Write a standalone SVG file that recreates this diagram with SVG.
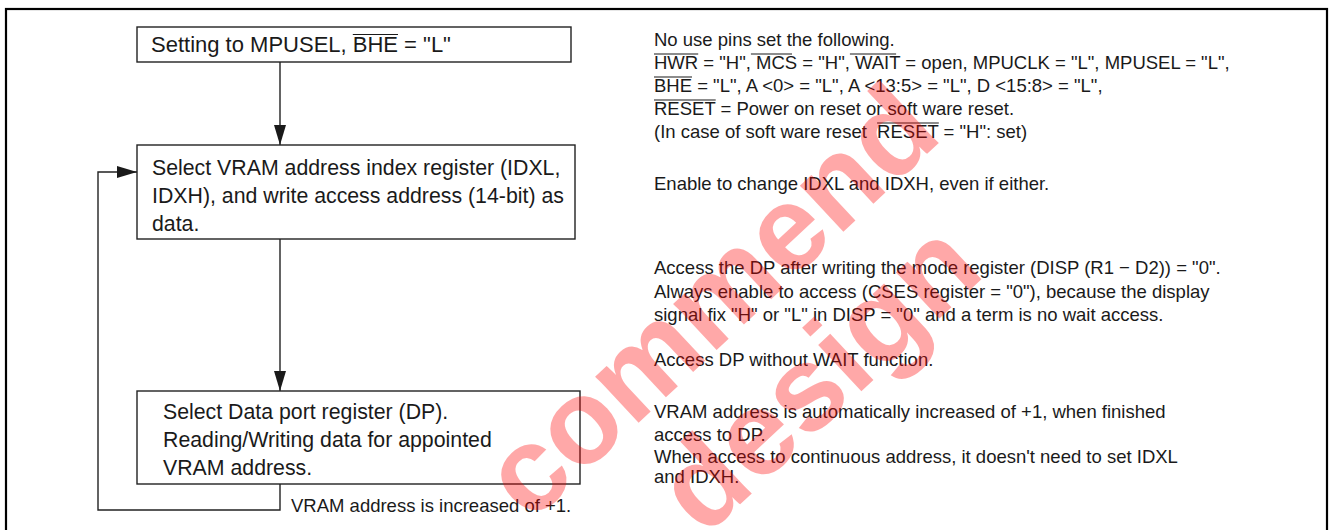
<svg xmlns="http://www.w3.org/2000/svg" width="1329" height="530" viewBox="0 0 1329 530">
<defs>
<marker id="ah" viewBox="0 0 20 12" refX="20" refY="6" markerWidth="20" markerHeight="12" markerUnits="userSpaceOnUse" orient="auto">
<path d="M0,0 L20,6 L0,12 Z" fill="#1a1a1a"/>
</marker>
</defs>
<style>
.frame{fill:none;stroke:#000;stroke-width:2.2}
.box{fill:#fff;stroke:#222;stroke-width:1.4}
.conn{fill:none;stroke:#222;stroke-width:1.4}
.ovl{stroke:#1a1a1a;stroke-width:1.2}
.bt{font-family:"Liberation Sans",Arial,sans-serif;font-size:21.3px;fill:#1a1a1a}
.rt{font-family:"Liberation Sans",Arial,sans-serif;font-size:18.5px;fill:#1a1a1a;white-space:pre}
.wm{font-family:"Liberation Sans",Arial,sans-serif;font-weight:bold;font-size:120px;fill:#ff0000;fill-opacity:0.34}
</style>
<rect class="frame" x="6" y="9" width="1321" height="540"/>
<g id="connectors">
<line class="conn" x1="280" y1="62" x2="280" y2="145" marker-end="url(#ah)"/>
<line class="conn" x1="280" y1="239" x2="280" y2="391" marker-end="url(#ah)"/>
<polyline class="conn" points="280,484 280,510 98,510 98,172 137,172" marker-end="url(#ah)"/>
</g>
<g id="node-setting">
<rect class="box" x="137" y="27" width="434" height="35"/>
<text class="bt" x="151" y="52" style="font-size:22px">Setting to MPUSEL, BHE = "L"</text>
<line class="ovl" x1="352.8" y1="34.5" x2="398" y2="34.5"/>
</g>
<g id="node-index">
<rect class="box" x="137" y="145" width="438" height="94"/>
<text class="bt" x="152" y="175">Select VRAM address index register (IDXL,</text>
<text class="bt" x="152" y="203">IDXH), and write access address (14-bit) as</text>
<text class="bt" x="152" y="231">data.</text>
</g>
<g id="node-dataport">
<rect class="box" x="137" y="391" width="443" height="93"/>
<text class="bt" x="163" y="419">Select Data port register (DP).</text>
<text class="bt" x="163" y="447">Reading/Writing data for appointed</text>
<text class="bt" x="163" y="475">VRAM address.</text>
</g>
<g id="label-increase">
<text class="rt" x="291" y="512">VRAM address is increased of +1.</text>
</g>
<g id="notes">
<text class="rt" x="654" y="46">No use pins set the following.</text>
<text class="rt" x="654" y="69">HWR = "H", MCS = "H", WAIT = open, MPUCLK = "L", MPUSEL = "L",</text>
<text class="rt" x="654" y="92">BHE = "L", A &lt;0&gt; = "L", A &lt;13:5&gt; = "L", D &lt;15:8&gt; = "L",</text>
<text class="rt" x="654" y="115">RESET = Power on reset or soft ware reset.</text>
<text class="rt" x="654" y="138">(In case of soft ware reset  RESET = "H": set)</text>
<line class="ovl" x1="654" y1="54" x2="698.2" y2="54"/>
<line class="ovl" x1="750.9" y1="54" x2="792" y2="54"/>
<line class="ovl" x1="849.9" y1="54" x2="896.1" y2="54"/>
<line class="ovl" x1="654" y1="77" x2="692" y2="77"/>
<line class="ovl" x1="654" y1="100" x2="715.7" y2="100"/>
<line class="ovl" x1="877.1" y1="123" x2="938.8" y2="123"/>
<text class="rt" x="654" y="190">Enable to change IDXL and IDXH, even if either.</text>
<text class="rt" x="654" y="274">Access the DP after writing the mode register (DISP (R1 − D2)) = "0".</text>
<text class="rt" x="654" y="298">Always enable to access (CSES register = "0"), because the display</text>
<text class="rt" x="654" y="321">signal fix "H" or "L" in DISP = "0" and a term is no wait access.</text>
<text class="rt" x="654" y="366">Access DP without WAIT function.</text>
<text class="rt" x="654" y="418">VRAM address is automatically increased of +1, when finished</text>
<text class="rt" x="654" y="441">access to DP.</text>
<text class="rt" x="654" y="463">When access to continuous address, it doesn't need to set IDXL</text>
<text class="rt" x="654" y="483">and IDXH.</text>
</g>
<g id="watermark">
<text class="wm" transform="translate(530,524) rotate(-43)">commend</text>
<text class="wm" transform="translate(704,538) rotate(-43)">design</text>
</g>
</svg>
